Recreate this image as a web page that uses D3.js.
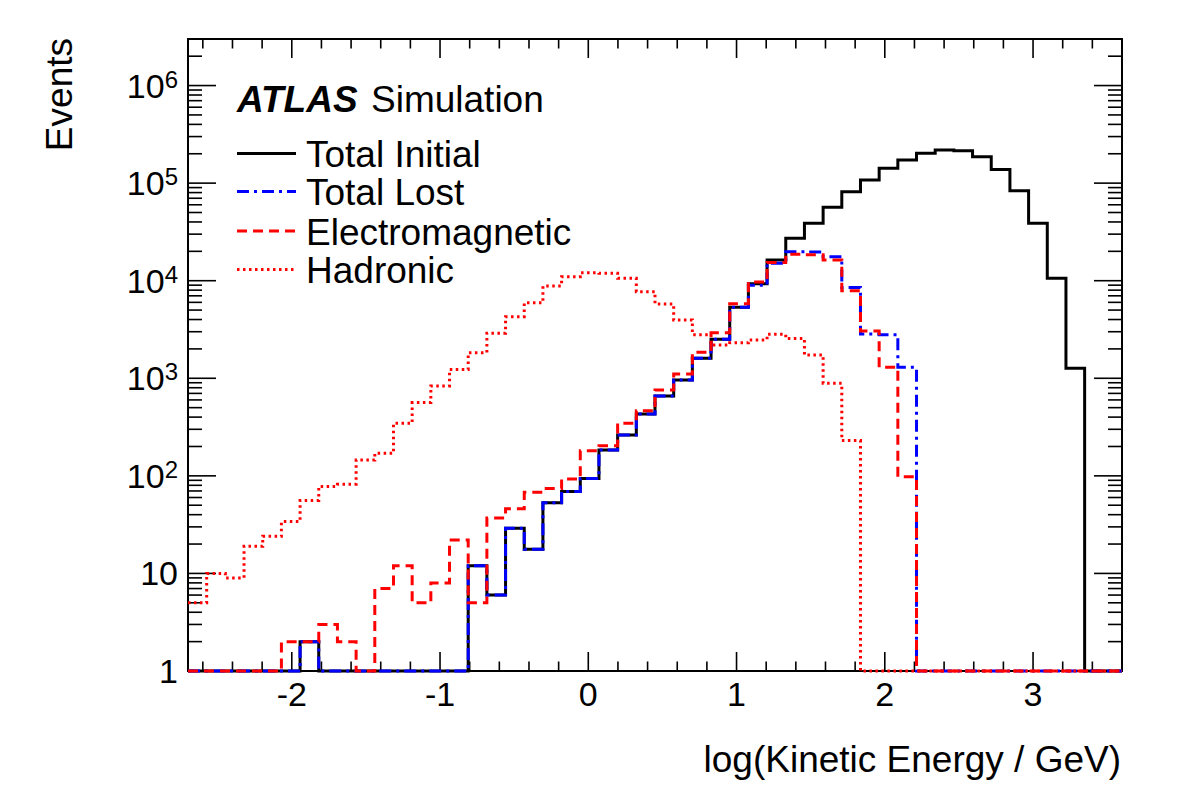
<!DOCTYPE html>
<html>
<head>
<meta charset="utf-8">
<script src="https://cdn.jsdelivr.net/npm/d3@7"></script>
<style>
  html, body { margin: 0; padding: 0; background: #fff; }
  text { font-family: "Liberation Sans", Arial, Helvetica, sans-serif; fill: #000; }
</style>
</head>
<body>
<svg id="chart" width="1182" height="800"></svg>
<script>
// ---- Data ----
const binLow = -2.7;
const binWidth = 0.126;
const totalInitial = [0,0,0,0,0,0,2,0,0,0,0,0,0,0,0,12,6,29,17.7,53,69,94,184,262,430,658,960,1600,2510,5330,9300,16300,27200,38700,56500,81700,107600,142000,172700,202000,218500,215000,186500,138000,83400,38700,10600,1265,0,0];
const totalLost = [0,0,0,0,0,0,2,0,0,0,0,0,0,0,0,12,6,29,17.7,53,69,94,184,262,430,658,960,1600,2510,5330,9000,15100,19800,19700,17600,8500,2850,2800,1295,0,0,0,0,0,0,0,0,0,0,0];
const electromagnetic = [0,0,0,0,0,2,2,3,2,0,7,12,5,8,22,5,37,46,68,74,93,181,203,346,465,760,1106,1845,2930,5800,9700,15400,18700,18500,16300,7900,3050,1295,98,0,0,0,0,0,0,0,0,0,0,0];
const hadronic = [5,10,9,19,24,34,56,78,82,145,170,346,563,833,1230,1830,2900,4270,5950,8830,10970,12050,11900,10570,7710,5760,3960,2800,2190,2310,2470,2820,2550,1730,888,230,0,0,0,0,0,0,0,0,0,0,0,0,0,0];
const xTickValues = [-2, -1, 0, 1, 2, 3];
const xTickLabels = ["-2", "-1", "0", "1", "2", "3"];
const yTickValues = [1, 10, 100, 1000, 10000, 100000, 1000000];
const yTickLabels = [["1", ""], ["10", ""], ["10", "2"], ["10", "3"], ["10", "4"], ["10", "5"], ["10", "6"]];
const legendLabels = ["Total Initial", "Total Lost", "Electromagnetic", "Hadronic"];

// ---- Layout ----
const L = 188, R = 1122, T = 39, B = 671;
const xDomain = [-2.7, 3.6];
const yDomain = [1, 3e6];

const svg = d3.select("#chart");
const x = d3.scaleLinear().domain(xDomain).range([L, R]);
const y = d3.scaleLog().domain(yDomain).range([B, T]);

svg.append("defs").append("clipPath").attr("id", "plotclip")
  .append("rect").attr("x", L).attr("y", T).attr("width", R - L).attr("height", B - T + 2);

// ---- Frame & ticks ----
const gA = svg.append("g");
gA.append("rect").attr("x", L).attr("y", T).attr("width", R - L).attr("height", B - T)
  .attr("fill", "none").attr("stroke", "#000").attr("stroke-width", 2);

const xMajorLen = 19, xMinorLen = 9.5, yMajorLen = 28, yMinorLen = 14;
const xMinor = d3.range(-26, 37, 2).map(d => d / 10).filter(d => Math.abs(d - Math.round(d)) > 1e-6);
function tick(x1, y1, x2, y2) {
  gA.append("line").attr("x1", x1).attr("y1", y1).attr("x2", x2).attr("y2", y2)
    .attr("stroke", "#000").attr("stroke-width", 1.6);
}
xTickValues.forEach(v => { tick(x(v), B, x(v), B - xMajorLen); tick(x(v), T, x(v), T + xMajorLen); });
xMinor.forEach(v => { tick(x(v), B, x(v), B - xMinorLen); tick(x(v), T, x(v), T + xMinorLen); });
yTickValues.forEach(v => { tick(L, y(v), L + yMajorLen, y(v)); tick(R, y(v), R - yMajorLen, y(v)); });
const yMinor = [];
yTickValues.forEach(v => { for (let m = 2; m <= 9; m++) { const t = v * m; if (t < yDomain[1]) yMinor.push(t); } });
yMinor.forEach(v => { tick(L, y(v), L + yMinorLen, y(v)); tick(R, y(v), R - yMinorLen, y(v)); });

// ---- Histograms (drawn over the frame, like ROOT) ----
function histPoints(vals) {
  const pts = [];
  vals.forEach((v, i) => {
    const x0 = x(binLow + i * binWidth), x1 = x(binLow + (i + 1) * binWidth);
    const yy = v >= 1 ? y(v) : B;
    pts.push([x0, yy], [x1, yy]);
  });
  pts.push([x(binLow + vals.length * binWidth), B]);
  return pts;
}
const line = d3.line();
const series = [
  { vals: totalInitial, color: "#000", dash: null },
  { vals: totalLost, color: "#0000ff", dash: "12,5,3,5" },
  { vals: electromagnetic, color: "#ff0000", dash: "10,6" },
  { vals: hadronic, color: "#ff0000", dash: "2.5,3.5" }
];
const gH = svg.append("g").attr("clip-path", "url(#plotclip)");
series.forEach(s => {
  gH.append("path")
    .attr("d", line(histPoints(s.vals)))
    .attr("fill", "none")
    .attr("stroke", s.color)
    .attr("stroke-width", 3)
    .attr("stroke-linejoin", "miter")
    .attr("stroke-dasharray", s.dash);
});

// ---- Tick labels ----
xTickValues.forEach((v, i) => {
  gA.append("text").attr("x", x(v)).attr("y", 706).attr("text-anchor", "middle")
    .attr("font-size", 34).text(xTickLabels[i]);
});
yTickValues.forEach((v, i) => {
  const [base, sup] = yTickLabels[i];
  const t = gA.append("text").attr("x", 178).attr("y", y(v) + 12).attr("text-anchor", "end").attr("font-size", 34);
  t.append("tspan").text(base);
  if (sup) t.append("tspan").attr("font-size", 24).attr("dy", -10).text(sup);
});

// ---- Axis titles ----
gA.append("text").attr("x", 1121).attr("y", 772).attr("text-anchor", "end")
  .attr("font-size", 37).text("log(Kinetic Energy / GeV)");
gA.append("text").attr("transform", "translate(72,38) rotate(-90)").attr("text-anchor", "end")
  .attr("font-size", 37).text("Events");

// ---- ATLAS label ----
const gT = svg.append("g");
const at = gT.append("text").attr("x", 237).attr("y", 111.5).attr("font-size", 37);
at.append("tspan").attr("font-weight", "bold").attr("font-style", "italic").text("ATLAS");
at.append("tspan").attr("x", 371).text("Simulation");

// ---- Legend ----
const legY = [153.5, 191.5, 231, 269.5];
legendLabels.forEach((lab, i) => {
  const s = series[i];
  gT.append("line").attr("x1", 237).attr("x2", 296).attr("y1", legY[i]).attr("y2", legY[i])
    .attr("stroke", s.color).attr("stroke-width", 3).attr("stroke-dasharray", s.dash);
  gT.append("text").attr("x", 306).attr("y", legY[i] + 13.5).attr("font-size", 37).text(lab);
});
</script>
</body>
</html>
